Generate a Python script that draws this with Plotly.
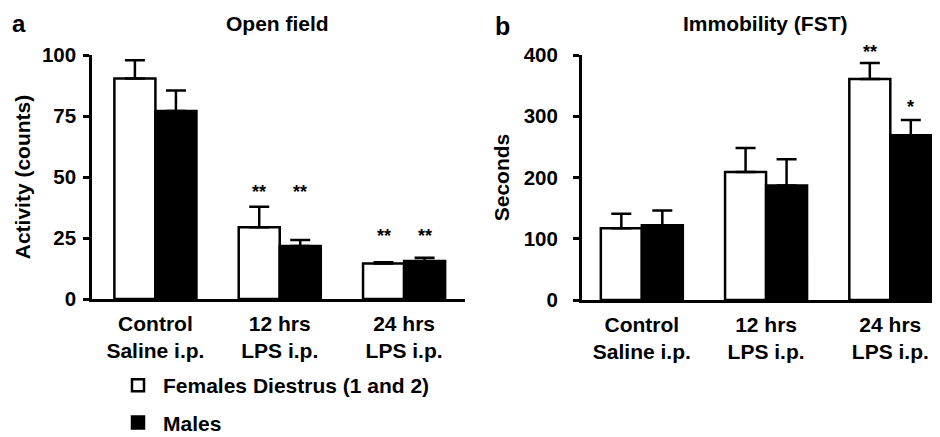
import plotly.graph_objects as go
from plotly.subplots import make_subplots

# ---------------- data ----------------
categories = ["Control<br>Saline i.p.", "12 hrs<br>LPS i.p.", "24 hrs<br>LPS i.p."]
series_names = ["Females Diestrus (1 and 2)", "Males"]

open_field_females = [90.4, 29.4, 14.6]
open_field_females_sem = [7.4, 8.4, 0.5]
open_field_males = [77.0, 21.7, 15.6]
open_field_males_sem = [8.5, 2.5, 1.3]

fst_females = [117, 209, 361]
fst_females_sem = [24, 39, 26]
fst_males = [122, 187, 269]
fst_males_sem = [24, 43, 25]

open_field_stars_females = ["", "**", "**"]
open_field_stars_males = ["", "**", "**"]
open_field_star_y = [None, 45.5, 27.6]

fst_stars_females = ["", "", "**"]
fst_stars_males = ["", "", "*"]
fst_star_y_females = [None, None, 411]
fst_star_y_males = [None, None, 321]

open_field_ticks = [0, 25, 50, 75, 100]
fst_ticks = [0, 100, 200, 300, 400]
open_field_max = 100
fst_max = 400

# ---------------- figure geometry ----------------
# the page places the figure 8px from the top-left corner of the window
OFF = 8
W, H = 940 - OFF, 437 - OFF

def fx(px):
    return (px - OFF) / W

def fy(px):
    return 1 - (px - OFF) / H

FONT = "Liberation Sans, Arial, Helvetica, sans-serif"
fig = make_subplots(rows=1, cols=2)

def add_pair(fem, fem_sem, mal, mal_sem, col, show):
    fig.add_trace(go.Bar(
        x=categories, y=fem, name=series_names[0], legendgroup="f",
        showlegend=show, offsetgroup="f",
        marker=dict(color="white", line=dict(color="black", width=2.5)),
        error_y=dict(type="data", symmetric=False, array=fem_sem,
                     arrayminus=[0] * len(fem), color="black",
                     thickness=2.5, width=10),
    ), row=1, col=col)
    fig.add_trace(go.Bar(
        x=categories, y=mal, name=series_names[1], legendgroup="m",
        showlegend=show, offsetgroup="m",
        marker=dict(color="black", line=dict(color="black", width=2.5)),
        error_y=dict(type="data", symmetric=False, array=mal_sem,
                     arrayminus=[0] * len(mal), color="black",
                     thickness=2.5, width=10),
    ), row=1, col=col)

add_pair(open_field_females, open_field_females_sem,
         open_field_males, open_field_males_sem, 1, True)
add_pair(fst_females, fst_females_sem, fst_males, fst_males_sem, 2, False)

half = (1 - 0.34) / 4  # offset of a bar centre from the category centre

annotations = []
for i in range(len(categories)):
    if open_field_stars_females[i]:
        annotations.append(dict(x=i - half, y=open_field_star_y[i] / open_field_max,
                                xref="x", yref="y domain", text=open_field_stars_females[i]))
    if open_field_stars_males[i]:
        annotations.append(dict(x=i + half, y=open_field_star_y[i] / open_field_max,
                                xref="x", yref="y domain", text=open_field_stars_males[i]))
    if fst_stars_females[i]:
        annotations.append(dict(x=i - half, y=fst_star_y_females[i] / fst_max,
                                xref="x2", yref="y2 domain", text=fst_stars_females[i]))
    if fst_stars_males[i]:
        annotations.append(dict(x=i + half, y=fst_star_y_males[i] / fst_max,
                                xref="x2", yref="y2 domain", text=fst_stars_males[i]))
for a in annotations:
    a.update(showarrow=False, yanchor="middle", yshift=-4,
             font=dict(size=18, family=FONT, color="black", weight="bold"))

annotations += [
    dict(text="Open field", x=fx(277), y=fy(23), xref="paper", yref="paper",
         showarrow=False, xanchor="center", yanchor="middle",
         font=dict(size=21, family=FONT, color="black", weight="bold")),
    dict(text="Immobility (FST)", x=fx(765), y=fy(23), xref="paper", yref="paper",
         showarrow=False, xanchor="center", yanchor="middle",
         font=dict(size=21, family=FONT, color="black", weight="bold")),
    dict(text="a", x=fx(19), y=1.0, xref="paper", yref="paper",
         showarrow=False, xanchor="center", yanchor="top",
         font=dict(size=24, family=FONT, color="black", weight="bold")),
    dict(text="b", x=fx(502), y=fy(26), xref="paper", yref="paper",
         showarrow=False, xanchor="center", yanchor="middle",
         font=dict(size=25, family=FONT, color="black", weight="bold")),
]

axis_common = dict(showline=True, linecolor="black", linewidth=2.5,
                   showgrid=False, zeroline=False, mirror=False, automargin=False)

fig.update_layout(
    template="none",
    width=W, height=H,
    margin=dict(l=0, r=0, t=0, b=0, pad=0, autoexpand=False),
    paper_bgcolor="white", plot_bgcolor="white",
    font=dict(family=FONT, size=21, color="black", weight="bold"),
    barmode="group", bargap=0.34, bargroupgap=0,
    annotations=annotations,
    legend=dict(x=fx(113), y=fy(365), xanchor="left", yanchor="top",
                bgcolor="rgba(0,0,0,0)", tracegroupgap=7, itemwidth=40,
                font=dict(size=21, family=FONT, color="black", weight="bold")),
    xaxis=dict(domain=[fx(92), fx(465)], range=[-0.51, 2.49], ticks="",
               ticklabelstandoff=4, tickfont=dict(size=21), **axis_common),
    xaxis2=dict(domain=[fx(581.7), 1.0], range=[-0.484, 2.40], ticks="",
                ticklabelstandoff=4, tickfont=dict(size=21), **axis_common),
    yaxis=dict(domain=[fy(299), fy(55)], range=[0, open_field_max], tickvals=open_field_ticks,
               ticks="outside", ticklen=6, tickwidth=2.5, tickcolor="black",
               ticklabelstandoff=3, tickfont=dict(size=20.5),
               title=dict(text="Activity (counts)", standoff=6,
                          font=dict(size=21)), **axis_common),
    yaxis2=dict(domain=[fy(300), fy(55)], range=[0, fst_max], tickvals=fst_ticks,
                ticks="outside", ticklen=6, tickwidth=2.5, tickcolor="black",
                ticklabelstandoff=11, tickfont=dict(size=20.5),
                title=dict(text="Seconds", standoff=9,
                           font=dict(size=21)), **axis_common),
)

fig.write_html("out.html")
